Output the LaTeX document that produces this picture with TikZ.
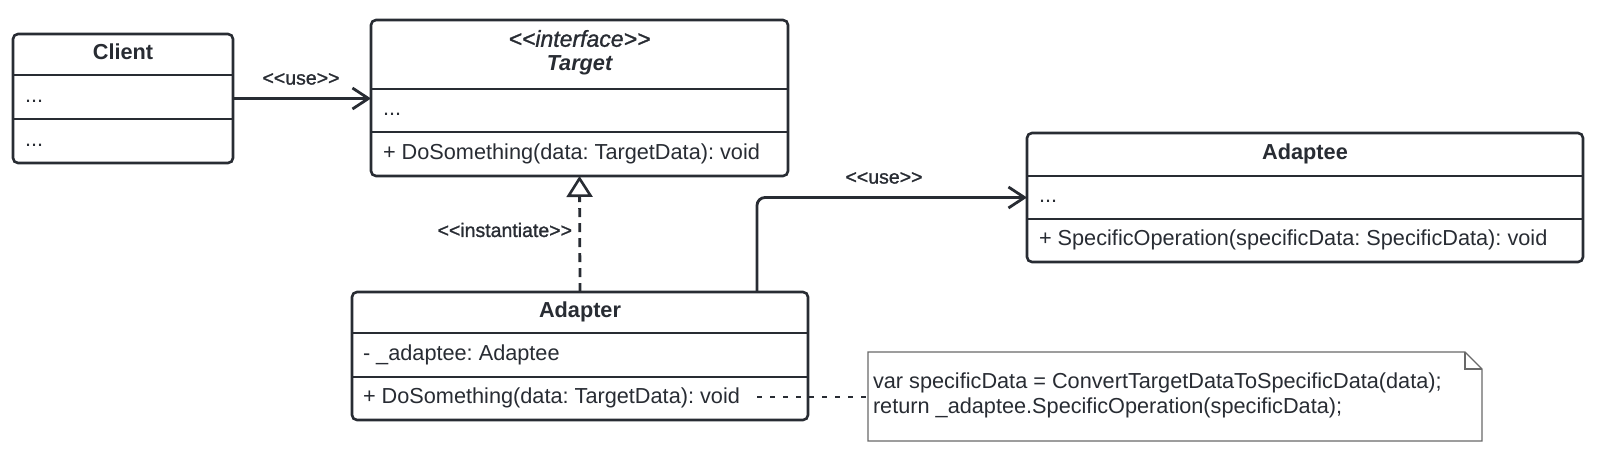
\documentclass[tikz,border=0pt]{standalone}
\usepackage{fontspec}
\setmainfont{Liberation Sans}
\newfontfamily\stereofont{Liberation Sans}[FakeBold=1.2]
\usetikzlibrary{arrows.meta,positioning}
\definecolor{umlink}{RGB}{40,44,51}
\definecolor{noteink}{RGB}{105,105,105}
\newcommand{\stereoopen}{<{}<}
\newcommand{\stereoclose}{>{}>}
\frenchspacing

\begin{document}
\begin{tikzpicture}[x=1pt,y=-1pt,inner sep=0pt,outer sep=0pt,
classbox/.style={draw=umlink,line width=2.6pt,rounded corners=5pt,rectangle,fill=white},
compline/.style={draw=umlink,line width=2pt},
title/.style={font=\fontsize{21.7}{26}\selectfont\bfseries,text=umlink,text height=16pt,text depth=4.5pt},
member/.style={anchor=west,font=\fontsize{21.7}{26}\selectfont,text=umlink,text height=16pt,text depth=4.5pt},
stereo/.style={font=\stereofont\fontsize{19.5}{22}\selectfont,text=umlink},
uses/.style={draw=umlink,line width=2.8pt,-{Straight Barb[length=16pt,width=21pt,line width=2.8pt]}},
realizes/.style={draw=umlink,line width=2.8pt,dash pattern=on 9pt off 6pt,-{Triangle[open,length=21pt,width=26pt,line width=2.6pt,fill=white]}},
noteline/.style={draw=umlink,line width=2.6pt,dash pattern=on 5pt off 8pt},
notetext/.style={anchor=base west,font=\fontsize{21.7}{26}\selectfont,text=umlink}]

\useasboundingbox (0,0) rectangle (1600,456);

% Client
\node[classbox,minimum width=220pt,minimum height=129pt] (client) at (123,98.5) {};
\draw[compline] (client.west |- 0,75) -- (client.east |- 0,75);
\draw[compline] (client.west |- 0,119) -- (client.east |- 0,119);
\node[title] (clientname) at (123,54) {Client};
\node[member] (clientattr) at (25,97) {...};
\node[member] (clientops) at (25,141) {...};

% Target
\node[classbox,minimum width=417pt,minimum height=156pt] (target) at (579.5,98) {};
\draw[compline] (target.west |- 0,89) -- (target.east |- 0,89);
\draw[compline] (target.west |- 0,132) -- (target.east |- 0,132);
\node[title,font=\stereofont\fontsize{23}{26}\selectfont\itshape] (targetstereo) at (579.5,41) {\stereoopen interface\stereoclose};
\node[title,font=\fontsize{21.7}{26}\selectfont\bfseries\itshape] (targetname) at (579.5,65) {Target};
\node[member] (targetattr) at (383,110) {...};
\node[member] (targetops) at (383,154) {+ DoSomething(data: TargetData): void};

% Adaptee
\node[classbox,minimum width=556pt,minimum height=129pt] (adaptee) at (1305,197.5) {};
\draw[compline] (adaptee.west |- 0,176) -- (adaptee.east |- 0,176);
\draw[compline] (adaptee.west |- 0,219) -- (adaptee.east |- 0,219);
\node[title] (adapteename) at (1305,154) {Adaptee};
\node[member] (adapteeattr) at (1039,197) {...};
\node[member] (adapteeops) at (1039,240) {+ SpecificOperation(specificData: SpecificData): void};

% Adapter
\node[classbox,minimum width=456pt,minimum height=128pt] (adapter) at (580,356) {};
\draw[compline] (adapter.west |- 0,333) -- (adapter.east |- 0,333);
\draw[compline] (adapter.west |- 0,377) -- (adapter.east |- 0,377);
\node[title] (adaptername) at (580,312) {Adapter};
\node[member] (adapterattr) at (363,355) {- \_adaptee: Adaptee};
\node[member] (adapterops) at (363,398) {+ DoSomething(data: TargetData): void};

% note
\coordinate (note) at (868,352);
\draw[noteink,line width=1.3pt,fill=white] (note) -- ++(597,0) -- ++(17,17) -- ++(0,72) -- ++(-614,0) -- cycle;
\draw[noteink,line width=1.3pt] ([xshift=597pt]note) -- ++(0,17) -- ++(17,0);
\node[notetext] (notefirst) at (873,388) {var specificData = ConvertTargetDataToSpecificData(data);};
\node[notetext] (notesecond) at (873,413) {return \_adaptee.SpecificOperation(specificData);};

% connectors
\draw[uses] (client.east) -- (client.east -| target.west);
\node[stereo] (useone) at (301,79) {\stereoopen use\stereoclose};
\draw[realizes] (adapter.north) -- (target.south);
\node[stereo,anchor=east] (instlabel) at (572,230) {\stereoopen instantiate\stereoclose};
\draw[uses,rounded corners=8pt] ([xshift=-51pt]adapter.north east) |- (adaptee.west);
\node[stereo] (usetwo) at (884,178) {\stereoopen use\stereoclose};
\coordinate (opsend) at (757,397);
\draw[noteline] (opsend) -- (opsend -| note);
\end{tikzpicture}
\end{document}
